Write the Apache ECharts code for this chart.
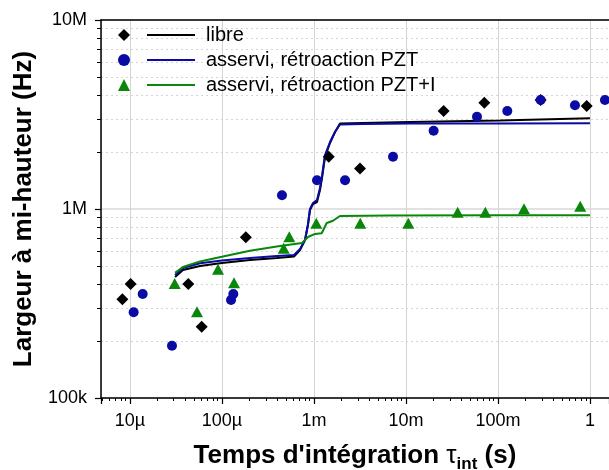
<!DOCTYPE html>
<html>
<head>
<meta charset="utf-8">
<script src="https://cdn.jsdelivr.net/npm/echarts@6/dist/echarts.min.js"></script>
<style>
  html, body { margin: 0; padding: 0; background: #fff; }
  #chart { width: 609px; height: 470px; }
</style>
</head>
<body>
<div id="chart"></div>
<script>
// mesures (points)
var libreTau = [8.3e-6, 1.02e-5, 4.32e-5, 6.04e-5, 1.82e-4, 1.45e-3, 3.17e-3, 0.0257, 0.0711, 0.291, 0.921];
var libreFwhm = [333e3, 401e3, 401e3, 238e3, 709e3, 1.89e6, 1.64e6, 3.30e6, 3.65e6, 3.77e6, 3.51e6];

var pztTau = [1.10e-5, 1.38e-5, 2.87e-5, 1.258e-4, 1.332e-4, 4.50e-4, 1.081e-3, 2.18e-3, 7.24e-3, 0.0200, 0.0592, 0.1264, 0.291, 0.687, 1.455];
var pztFwhm = [284e3, 355e3, 189e3, 330e3, 355e3, 1.182e6, 1.418e6, 1.418e6, 1.891e6, 2.597e6, 3.08e6, 3.30e6, 3.77e6, 3.54e6, 3.77e6];

var pztiTau = [3.07e-5, 5.37e-5, 9.08e-5, 1.356e-4, 4.70e-4, 5.40e-4, 1.062e-3, 3.19e-3, 0.01062, 0.0365, 0.0729, 0.1919, 0.784];
var pztiFwhm = [404e3, 286e3, 480e3, 407e3, 620e3, 714e3, 840e3, 840e3, 840e3, 960e3, 960e3, 1.004e6, 1.033e6];

// courbes calculees
var fitTau = [3.10e-5, 3.78e-5, 5.79e-5, 1.00e-4, 2.02e-4, 3.97e-4, 6.08e-4, 7.07e-4, 8.01e-4, 8.63e-4, 9.07e-4, 9.78e-4, 1.081e-3, 1.165e-3, 1.225e-3, 1.320e-3, 1.497e-3, 1.696e-3, 1.922e-3, 3.42e-3, 0.0111, 0.105, 1];
var libreFit = [437e3, 476e3, 499e3, 518e3, 537e3, 551e3, 561e3, 607e3, 686e3, 823e3, 988e3, 1.063e6, 1.089e6, 1.26e6, 1.459e6, 1.884e6, 2.235e6, 2.556e6, 2.835e6, 2.851e6, 2.886e6, 2.94e6, 3.02e6];
var pztFit = [448e3, 487e3, 516e3, 534e3, 551e3, 564e3, 571e3, 614e3, 686e3, 833e3, 1.0e6, 1.076e6, 1.116e6, 1.291e6, 1.495e6, 1.931e6, 2.262e6, 2.556e6, 2.80e6, 2.817e6, 2.835e6, 2.835e6, 2.842e6];

var pztiFitTau = [3.10e-5, 3.78e-5, 5.79e-5, 1.00e-4, 2.02e-4, 4.28e-4, 7.43e-4, 8.63e-4, 1.028e-3, 1.216e-3, 1.378e-3, 1.613e-3, 1.922e-3, 6.71e-3, 0.105, 1];
var pztiFit = [459e3, 493e3, 528e3, 559e3, 602e3, 637e3, 661e3, 711e3, 738e3, 744e3, 843e3, 867e3, 918e3, 924e3, 926e3, 926e3];

var names = ['libre', 'asservi, rétroaction PZT', 'asservi, rétroaction PZT+I'];
var xTickValues = [1e-5, 1e-4, 1e-3, 1e-2, 1e-1, 1];
var xTickLabels = ['10µ', '100µ', '1m', '10m', '100m', '1'];
var yTickValues = [1e5, 1e6, 1e7];
var yTickLabels = ['100k', '1M', '10M'];

var FONT = 'Liberation Sans, Arial, sans-serif';
var BLACK = '#000000', BLUE = '#0a0aa5', GREEN = '#0a870a';

function pairs(xs, ys) {
	var out = [];
	for (var i = 0; i < xs.length; i++) out.push([xs[i], ys[i]]);
	return out;
}
function tickFormatter(values, labels) {
	return function (v) {
		for (var i = 0; i < values.length; i++) {
			if (Math.abs(Math.log10(v) - Math.log10(values[i])) < 1e-6) return labels[i];
		}
		return '';
	};
}

var chart = echarts.init(document.getElementById('chart'), null, {renderer: 'canvas'});
var option = {
	animation: false,
	backgroundColor: '#fff',
	textStyle: {fontFamily: FONT},
	grid: {left: 101, top: 20, right: 0, bottom: 72, outerBoundsMode: 'none', containLabel: false},
	legend: [
		{
			left: 118, top: 25, orient: 'vertical', padding: 0, itemGap: 5,
			itemWidth: 12, itemHeight: 12, selectedMode: false,
			formatter: function () { return ' '; },
			textStyle: {fontSize: 20, lineHeight: 20},
			data: [
				{name: names[0], icon: 'diamond'},
				{name: names[1], icon: 'circle'},
				{name: names[2], icon: 'triangle'}
			]
		},
		{
			left: 147, top: 25, orient: 'vertical', padding: 0, itemGap: 5,
			itemWidth: 48, itemHeight: 2, icon: 'rect', selectedMode: false,
			textStyle: {fontSize: 20, lineHeight: 20, color: '#000', fontFamily: FONT, padding: [0, 0, 0, 6]},
			data: names
		}
	],
	xAxis: [
		{
			type: 'log', logBase: 10, min: 4.86e-6, max: 1.61,
			name: '{b|Temps d\'intégration }{t|τ}{s|int}{b| (s)}',
			nameLocation: 'middle', nameGap: 45,
			nameTextStyle: {
				rich: {
					b: {fontSize: 26, fontWeight: 'bold', color: '#000', fontFamily: FONT, lineHeight: 26},
					t: {fontSize: 26, color: '#000', fontFamily: FONT, lineHeight: 26},
					s: {fontSize: 17, fontWeight: 'bold', color: '#000', fontFamily: FONT, lineHeight: 17, padding: [16, 0, 0, 0]}
				}
			},
			axisLine: {lineStyle: {color: '#000', width: 1.5}},
			axisTick: {show: true, length: 6, lineStyle: {color: '#000', width: 1.2}},
			minorTick: {show: true, splitNumber: 9, length: 3, lineStyle: {color: '#000', width: 1}},
			axisLabel: {fontSize: 18, color: '#000', margin: 14, formatter: tickFormatter(xTickValues, xTickLabels)},
			splitLine: {show: true, lineStyle: {color: '#d4d4d4', width: 1}}
		},
		{
			type: 'log', logBase: 10, min: 4.86e-6, max: 1.61, position: 'top',
			axisLine: {show: true, onZero: false, lineStyle: {color: '#000', width: 1.5}},
			axisTick: {show: false}, axisLabel: {show: false}, splitLine: {show: false}
		}
	],
	yAxis: {
		type: 'log', logBase: 10, min: 1e5, max: 1e7,
		name: 'Largeur à mi-hauteur (Hz)',
		nameLocation: 'middle', nameGap: 60, nameRotate: 90,
		nameTextStyle: {fontSize: 26, fontWeight: 'bold', color: '#000', fontFamily: FONT},
		axisLine: {show: true, lineStyle: {color: '#000', width: 1.5}},
		axisTick: {show: true, length: 6, lineStyle: {color: '#000', width: 1.2}},
		minorTick: {show: true, splitNumber: 9, length: 4, lineStyle: {color: '#000', width: 1}},
		axisLabel: {fontSize: 18, color: '#000', margin: 14, formatter: tickFormatter(yTickValues, yTickLabels)},
		splitLine: {show: true, lineStyle: {color: '#e2e2e2', width: 2}},
		minorSplitLine: {show: true, lineStyle: {color: '#d6d6d6', width: 1, type: [2, 3]}}
	},
	series: [
		{name: names[0], type: 'scatter', symbol: 'diamond', symbolSize: 12, z: 4,
			itemStyle: {color: BLACK, opacity: 1}, data: pairs(libreTau, libreFwhm)},
		{name: names[1], type: 'scatter', symbol: 'circle', symbolSize: 10, z: 4,
			itemStyle: {color: BLUE, opacity: 1}, data: pairs(pztTau, pztFwhm)},
		{name: names[2], type: 'scatter', symbol: 'triangle', symbolSize: [12, 11], z: 4,
			itemStyle: {color: GREEN, opacity: 1}, data: pairs(pztiTau, pztiFwhm)},
		{name: names[0], type: 'line', showSymbol: false, z: 3, color: BLACK,
			lineStyle: {color: BLACK, width: 2}, data: pairs(fitTau, libreFit)},
		{name: names[1], type: 'line', showSymbol: false, z: 3, color: BLUE,
			lineStyle: {color: BLUE, width: 2}, data: pairs(fitTau, pztFit)},
		{name: names[2], type: 'line', showSymbol: false, z: 3, color: GREEN,
			lineStyle: {color: GREEN, width: 2}, data: pairs(pztiFitTau, pztiFit)}
	]
};
chart.setOption(option);
</script>
</body>
</html>
